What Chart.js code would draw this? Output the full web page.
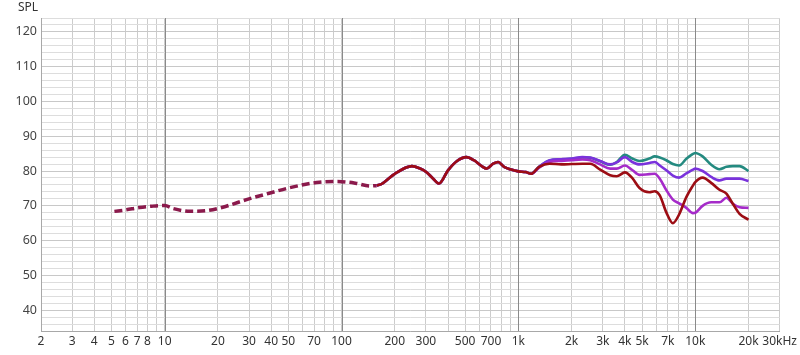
<!DOCTYPE html>
<html>
<head>
<meta charset="utf-8">
<script src="https://cdn.jsdelivr.net/npm/chart.js@4"></script>
<style>
  html, body { margin: 0; padding: 0; background: #fff; }
  canvas { display: block; }
</style>
</head>
<body>
<canvas id="chart" width="800" height="355"></canvas>
<script>
// shared low-frequency part (dashed)
const lowFreq = [5.2, 6, 7.2, 8.5, 10, 11.2, 13.9, 17.3, 21.3, 30, 39, 51, 75, 95, 120, 145, 158];
const lowSpl = [68.4, 68.8, 69.5, 69.9, 70.1, 69.2, 68.4, 68.6, 69.6, 72.0, 73.6, 75.2, 76.8, 77.0, 76.5, 75.7, 75.8];

// shared solid part, all curves overlap here
const midFreq = [158, 170, 200, 250, 276, 300, 330, 356, 400, 450, 508, 560, 620, 660, 720, 768, 830, 900, 1000, 1100];
const midSpl = [75.8, 76.4, 79.2, 81.4, 80.8, 79.8, 77.8, 76.4, 80.2, 82.9, 84.0, 83.1, 81.4, 80.7, 82.1, 82.6, 81.2, 80.5, 79.9, 79.7];

// high-frequency part, per curve
const hiFreq = [1180, 1310, 1500, 1750, 2000, 2300, 2550, 2900, 3300, 3600, 4000, 4400, 4840, 5500, 5900, 6300, 6860, 7470, 8100, 8900, 9700, 10000, 11000, 12300, 13700, 15000, 16300, 17800, 20000];
const tealSpl =   [79.2, 81.2, 83.0, 83.3, 83.5, 83.9, 83.8, 82.8, 81.8, 82.6, 84.7, 83.6, 82.9, 83.6, 84.2, 83.9, 83.1, 82.0, 81.6, 83.5, 84.9, 85.2, 84.2, 81.8, 80.5, 81.2, 81.4, 81.4, 80.0];
const violetSpl = [79.2, 81.2, 83.1, 83.4, 83.6, 84.0, 83.9, 82.9, 81.9, 82.5, 84.0, 82.6, 81.9, 82.3, 82.6, 81.6, 80.2, 78.7, 78.1, 79.3, 80.4, 80.7, 80.0, 78.3, 77.3, 77.8, 77.8, 77.8, 77.1];
const purpleSpl = [79.2, 81.0, 82.6, 82.9, 83.1, 83.3, 83.1, 81.9, 80.7, 80.7, 81.6, 80.3, 78.9, 79.1, 79.2, 77.8, 74.5, 71.8, 70.7, 69.4, 67.9, 68.0, 70.0, 71.0, 71.0, 72.3, 70.6, 69.6, 69.4];
const redSpl =    [79.2, 81.2, 82.1, 81.9, 82.0, 82.1, 82.1, 80.4, 78.8, 78.5, 79.6, 78.0, 75.1, 73.9, 74.2, 73.0, 68.1, 65.0, 67.5, 72.5, 75.8, 76.8, 78.1, 76.6, 74.6, 73.5, 70.6, 67.7, 66.0];

// axis ticks
const xGrid = [];
[1, 10, 100, 1000, 10000].forEach(d => {
  for (let m = 1; m <= 9; m++) {
    const v = m * d;
    if (v >= 2 && v <= 30000) xGrid.push(v);
  }
});
const xLabels = {
  2: "2", 3: "3", 4: "4", 5: "5", 6: "6", 7: "7", 8: "8", 10: "10",
  20: "20", 30: "30", 40: "40", 50: "50", 70: "70", 100: "100",
  200: "200", 300: "300", 500: "500", 700: "700", 1000: "1k",
  2000: "2k", 3000: "3k", 4000: "4k", 5000: "5k", 7000: "7k", 10000: "10k",
  20000: "20k", 30000: "30kHz"
};
const decades = [10, 100, 1000, 10000];
const yLabels = [40, 50, 60, 70, 80, 90, 100, 110, 120];

function pts(fs, vs) {
  return fs.map((f, i) => ({ x: f, y: vs[i] }));
}
function curve(vs) {
  return pts(midFreq, midSpl).concat(pts(hiFreq, vs));
}

const solid = { fill: false, pointRadius: 0, borderWidth: 2.6, tension: 0.4, cubicInterpolationMode: "monotone" };

// SPL caption and the darker decade lines
const extras = {
  id: "extras",
  beforeDatasetsDraw(chart) {
    const { ctx, chartArea, scales } = chart;
    ctx.save();
    ctx.strokeStyle = "#8a8a8a";
    ctx.lineWidth = 1;
    decades.forEach(v => {
      const x = Math.round(scales.x.getPixelForValue(v)) + 0.5;
      ctx.beginPath();
      ctx.moveTo(x, chartArea.top);
      ctx.lineTo(x, chartArea.bottom);
      ctx.stroke();
    });
    ctx.restore();
  },
  afterDraw(chart) {
    const ctx = chart.ctx;
    ctx.save();
    ctx.fillStyle = "#333";
    ctx.font = "12px 'Noto Sans'";
    ctx.textBaseline = "middle";
    ctx.fillText("SPL", 18, 8);
    ctx.restore();
  }
};

new Chart(document.getElementById("chart"), {
  type: "line",
  data: {
    datasets: [
      { ...solid, data: curve(redSpl), borderColor: "#9c0d14" },
      { ...solid, data: curve(purpleSpl), borderColor: "#a52bc9" },
      { ...solid, data: curve(violetSpl), borderColor: "#7a32dc" },
      { ...solid, data: curve(tealSpl), borderColor: "#248a80" },
      { ...solid, data: pts(lowFreq, lowSpl), borderColor: "#8b1a4c", borderWidth: 3.5, borderDash: [8, 4] }
    ]
  },
  options: {
    responsive: false,
    animation: false,
    devicePixelRatio: 1,
    layout: { padding: { top: 18, right: 20, left: 0, bottom: 0 } },
    plugins: { legend: { display: false }, tooltip: { enabled: false } },
    scales: {
      x: {
        type: "logarithmic",
        min: 2,
        max: 30000,
        afterBuildTicks(scale) {
          scale.ticks = xGrid.map(v => ({ value: v }));
        },
        afterFit(scale) { scale.height = 24; },
        ticks: {
          autoSkip: false,
          maxRotation: 0,
          padding: 3,
          color: "#333",
          font: { family: "'Noto Sans'", size: 12 },
          callback: v => xLabels[v] || ""
        },
        grid: { drawTicks: false, color: "#cccccc", lineWidth: 1 },
        border: { color: "#a8a8a8" }
      },
      y: {
        min: 34,
        max: 124,
        afterFit(scale) { scale.width = 41; },
        ticks: {
          stepSize: 2,
          autoSkip: false,
          padding: 4,
          color: "#444",
          font: { family: "'Noto Sans'", size: 12.5 },
          callback: v => yLabels.includes(v) ? String(v) : ""
        },
        grid: {
          drawTicks: false,
          color: ctx => yLabels.includes(ctx.tick && ctx.tick.value) ? "#c8c8c8" : "#dddddd"
        },
        border: { color: "#a8a8a8" }
      }
    }
  },
  plugins: [extras]
});
</script>
</body>
</html>
